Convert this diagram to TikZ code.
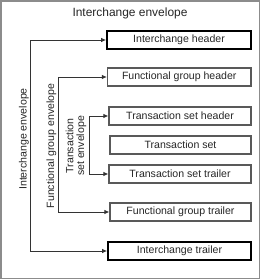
\documentclass[tikz,border=0pt]{standalone}
\usepackage{fontspec}
\setmainfont{Liberation Sans}
\usetikzlibrary{arrows.meta}
\begin{document}
\begin{tikzpicture}[x=1bp,y=-1bp,
  boxtext/.style={font=\fontsize{10.6}{11.5}\selectfont, inner sep=0pt, minimum height=18bp, text=black!85},
  heavybox/.style={boxtext, draw=black, line width=1.7bp},
  lightbox/.style={boxtext, draw=black!65, line width=1.1bp},
  lbl/.style={font=\fontsize{10.6}{10.6}\selectfont, rotate=90, align=center, inner sep=0pt, text=black!85},
  conn/.style={draw=black!80, line width=0.9bp},
  arr/.style={conn, {Latex[length=5bp,width=4.5bp]}-{Latex[length=5bp,width=4.5bp]}}
]
\useasboundingbox (0,0) rectangle (261,280);
\draw[black!45, line width=1.6bp] (1,1) rectangle (259.5,278.5);

\node[font=\fontsize{12}{12}\selectfont, inner sep=0pt, text=black!85] (title) at (130,13) {Interchange envelope};

\node[heavybox, minimum width=144bp] (IH) at (179,40) {Interchange header};
\node[lightbox, minimum width=143.5bp] (FGH) at (179.25,77) {Functional group header};
\node[lightbox, minimum width=142bp] (TSH) at (180,116) {Transaction set header};
\node[lightbox, minimum width=141bp] (TS) at (180.5,145) {Transaction set};
\node[lightbox, minimum width=142bp] (TST) at (180,174) {Transaction set trailer};
\node[lightbox, minimum width=141bp] (FGT) at (180.5,212) {Functional group trailer};
\node[heavybox, minimum width=143bp] (IT) at (179.5,251) {Interchange trailer};

\node[lbl] (IEl) at (24,139) {Interchange envelope};
\node[lbl] (FGEl) at (51.5,146) {Functional group envelope};
\node[lbl] (TSEl) at (76,146) {Transaction\\set envelope};

\coordinate (ie) at (30,251);
\coordinate (fe) at (58,212);
\coordinate (te) at (89,174);
\draw[arr] (IH.west) -| (ie) -- (IT.west);
\draw[arr] (FGH.west) -| (fe) -- (FGT.west);
\draw[arr] (TSH.west) -| (te) -- (TST.west);
\end{tikzpicture}
\end{document}
